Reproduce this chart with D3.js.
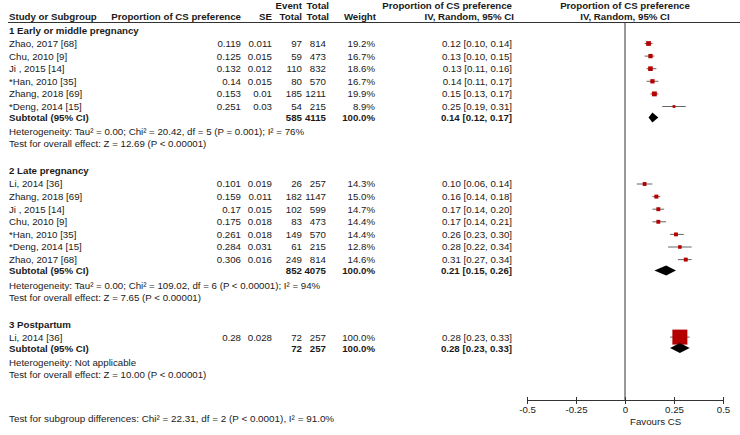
<!DOCTYPE html>
<html>
<head>
<meta charset="utf-8">
<script src="https://cdn.jsdelivr.net/npm/d3@7"></script>
<style>
  body { margin: 0; background: #fff; }
  svg text { font-family: 'Liberation Sans', Arial, sans-serif; font-size: 9.7px; fill: #1a1a1a; }
  svg text.b { font-weight: bold; }
</style>
</head>
<body>
<div id="forest"></div>
<script>
// study level data
var groupNames = ['1 Early or middle pregnancy', '2 Late pregnancy', '3 Postpartum'];
var studyGroup = [0, 0, 0, 0, 0, 0, 1, 1, 1, 1, 1, 1, 1, 2];
var studyNames = ['Zhao, 2017 [68]', 'Chu, 2010 [9]', 'Ji , 2015 [14]', '*Han, 2010 [35]', 'Zhang, 2018 [69]', '*Deng, 2014 [15]',
  'Li, 2014 [36]', 'Zhang, 2018 [69]', 'Ji , 2015 [14]', 'Chu, 2010 [9]', '*Han, 2010 [35]', '*Deng, 2014 [15]', 'Zhao, 2017 [68]',
  'Li, 2014 [36]'];
var studyProp = [0.119, 0.125, 0.132, 0.14, 0.153, 0.251, 0.101, 0.159, 0.17, 0.175, 0.261, 0.284, 0.306, 0.28];
var studySE = [0.011, 0.015, 0.012, 0.015, 0.01, 0.03, 0.019, 0.011, 0.015, 0.018, 0.018, 0.031, 0.016, 0.028];
var studyEvents = [97, 59, 110, 80, 185, 54, 26, 182, 102, 83, 149, 61, 249, 72];
var studyTotals = [814, 473, 832, 570, 1211, 215, 257, 1147, 599, 473, 570, 215, 814, 257];
var studyWeights = [19.2, 16.7, 18.6, 16.7, 19.9, 8.9, 14.3, 15.0, 14.7, 14.4, 14.4, 12.8, 14.6, 100.0];
var studyMean = [0.12, 0.13, 0.13, 0.14, 0.15, 0.25, 0.10, 0.16, 0.17, 0.17, 0.26, 0.28, 0.31, 0.28];
var studyLow = [0.10, 0.10, 0.11, 0.11, 0.13, 0.19, 0.06, 0.14, 0.14, 0.14, 0.23, 0.22, 0.27, 0.23];
var studyHigh = [0.14, 0.15, 0.16, 0.17, 0.17, 0.31, 0.14, 0.18, 0.20, 0.21, 0.30, 0.34, 0.34, 0.33];

// subgroup totals
var subEvents = [585, 852, 72];
var subTotals = [4115, 4075, 257];
var subMean = [0.14, 0.21, 0.28];
var subLow = [0.12, 0.15, 0.23];
var subHigh = [0.17, 0.26, 0.33];
var hetText = [
  'Heterogeneity: Tau² = 0.00; Chi² = 20.42, df = 5 (P = 0.001); I² = 76%',
  'Heterogeneity: Tau² = 0.00; Chi² = 109.02, df = 6 (P < 0.00001); I² = 94%',
  'Heterogeneity: Not applicable'
];
var effectText = [
  'Test for overall effect: Z = 12.69 (P < 0.00001)',
  'Test for overall effect: Z = 7.65 (P < 0.00001)',
  'Test for overall effect: Z = 10.00 (P < 0.00001)'
];
var subgroupTest = 'Test for subgroup differences: Chi² = 22.31, df = 2 (P < 0.0001), I² = 91.0%';
var axisTicks = [-0.5, -0.25, 0, 0.25, 0.5];

var width = 740, height = 435;
var col = { name: 9, prop: 241, se: 272, ev: 302, tot: 326, wt: 375, ci: 512 };
var axisY = 400;

var svg = d3.select('#forest')
  .append('svg')
    .attr('width', width)
    .attr('height', height);

var x = d3.scaleLinear().domain([-0.5, 0.5]).range([527, 723]);
var boxSize = d3.scalePow().exponent(0.7).domain([0, 100]).range([0, 15]);
var f2 = d3.format('.2f'), f1 = d3.format('.1f');
var ciText = (m, l, h) => f2(m) + ' [' + f2(l) + ', ' + f2(h) + ']';

function txt(xp, yp, s, anchor, bold) {
  svg.append('text')
    .attr('x', xp)
    .attr('y', yp)
    .attr('dy', '0.36em')
    .attr('text-anchor', anchor || 'start')
    .attr('class', bold ? 'b' : null)
    .text(s);
}

// headers
txt(col.ev, 5, 'Event', 'end', true);
txt(col.tot + 3, 5, 'Total', 'end', true);
txt(col.name, 16.5, 'Study or Subgroup', 'start', true);
txt(col.prop, 16.5, 'Proportion of CS preference', 'end', true);
txt(col.se, 16.5, 'SE', 'end', true);
txt(col.ev, 16.5, 'Total', 'end', true);
txt(col.tot + 3, 16.5, 'Total', 'end', true);
txt(col.wt + 1, 16.5, 'Weight', 'end', true);
txt(col.ci, 5, 'Proportion of CS preference', 'end', true);
txt(col.ci + 2, 16.5, 'IV, Random, 95% CI', 'end', true);
txt(x(0), 5, 'Proportion of CS preference', 'middle', true);
txt(x(0), 16.5, 'IV, Random, 95% CI', 'middle', true);

svg.append('line')
  .attr('x1', 8).attr('x2', width)
  .attr('y1', 22.5).attr('y2', 22.5)
  .style('stroke', '#333').style('stroke-width', 1);

// zero line
svg.append('line')
  .attr('x1', x(0)).attr('x2', x(0))
  .attr('y1', 22.5).attr('y2', axisY)
  .style('stroke', '#333').style('stroke-width', 1);

var y = 30.5;
groupNames.forEach(function(g, gi) {
  txt(col.name, y, g, 'start', true);
  y += 13;
  var last = y;
  studyNames.forEach(function(n, i) {
    if (studyGroup[i] !== gi) return;
    txt(col.name, y, n);
    txt(col.prop, y, String(studyProp[i]), 'end');
    txt(col.se, y, String(studySE[i]), 'end');
    txt(col.ev, y, studyEvents[i], 'end');
    txt(col.tot, y, studyTotals[i], 'end');
    txt(col.wt, y, f1(studyWeights[i]) + '%', 'end');
    txt(col.ci, y, ciText(studyMean[i], studyLow[i], studyHigh[i]), 'end');

    svg.append('line')
      .attr('x1', x(studyLow[i])).attr('x2', x(studyHigh[i]))
      .attr('y1', y).attr('y2', y)
      .style('stroke', '#666').style('stroke-width', 1);
    var s = boxSize(studyWeights[i]);
    svg.append('rect')
      .attr('x', x(studyMean[i]) - s / 2)
      .attr('y', y - s / 2)
      .attr('width', s).attr('height', s)
      .style('fill', '#b50000');
    last = y;
    y += 12.6;
  });

  var sy = last + 11;
  txt(col.name, sy, 'Subtotal (95% CI)', 'start', true);
  txt(col.ev, sy, subEvents[gi], 'end', true);
  txt(col.tot, sy, subTotals[gi], 'end', true);
  txt(col.wt, sy, '100.0%', 'end', true);
  txt(col.ci, sy, ciText(subMean[gi], subLow[gi], subHigh[gi]), 'end', true);
  svg.append('path')
    .attr('d', 'M' + x(subLow[gi]) + ',' + sy + 'L' + x(subMean[gi]) + ',' + (sy - 5) +
      'L' + x(subHigh[gi]) + ',' + sy + 'L' + x(subMean[gi]) + ',' + (sy + 5) + 'Z')
    .style('fill', '#000');

  txt(col.name, sy + 14.5, hetText[gi]);
  txt(col.name, sy + 26.5, effectText[gi]);
  y = sy + 53.5;
});

// axis
var axis = svg.append('g')
  .attr('transform', 'translate(0,' + axisY + ')')
  .call(d3.axisBottom(x).tickValues(axisTicks).tickFormat(d => String(d))
    .tickSize(4).tickSizeOuter(0).tickPadding(2));
axis.select('.domain').style('stroke', '#333');
axis.selectAll('.tick line').attr('y1', -3).style('stroke', '#333');
axis.selectAll('.tick text')
  .style('font-family', "'Liberation Sans', Arial, sans-serif")
  .style('font-size', '9.7px').style('fill', '#1a1a1a');

svg.append('text')
  .attr('x', x(0) + 5)
  .attr('y', axisY + 25)
  .text('Favours CS');

svg.append('text')
  .attr('x', col.name)
  .attr('y', 418)
  .attr('dy', '0.36em')
  .style('font-size', '9.9px')
  .text(subgroupTest);
</script>
</body>
</html>
